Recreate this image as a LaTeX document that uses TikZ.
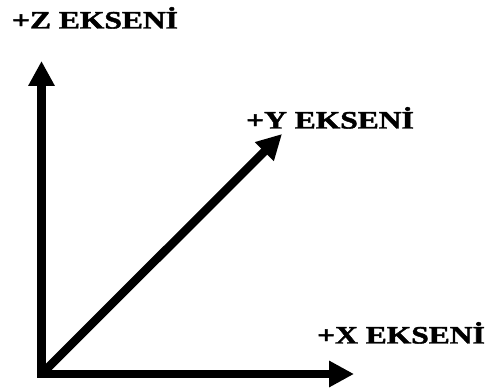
\documentclass[tikz,border=0pt]{standalone}
\usepackage{fontspec}
\setmainfont{Liberation Serif}
\newfontfamily\axisfont[FakeBold=1.6]{Liberation Serif Bold}
\usetikzlibrary{arrows.meta,positioning}

\begin{document}
\begin{tikzpicture}[x=1pt, y=-1pt, >={Triangle[length=25pt,width=25pt]},
    axis/.style={draw, ->, line width=8.5pt, line join=miter},
    label/.style={font=\fontsize{25}{30}\selectfont\axisfont, inner sep=0pt, anchor=base, xscale=1.26}]
    \useasboundingbox (0,0) rectangle (488,390);

    \coordinate (o) at (41.5,374);
    \coordinate (ztip) at (41.5,61);
    \coordinate (xtip) at (354,374);
    \coordinate (ytip) at (282,134);

    \node [label] (zlab) at (95,28.5) {+Z EKSENİ};
    \node [label] (ylab) at (330,128.5) {+Y EKSENİ};
    \node [label] (xlab) at (401,343.5) {+X EKSENİ};

    \path [axis, <->] (ztip) -- (o) -- (xtip);
    \path [axis] (o) -- (ytip);
\end{tikzpicture}
\end{document}
